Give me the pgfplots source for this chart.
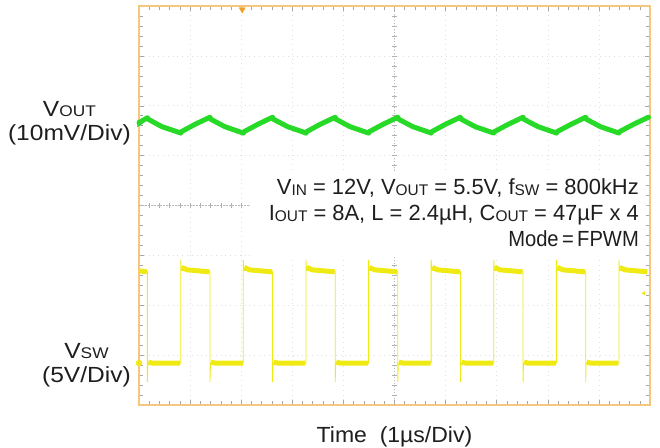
\documentclass[border=0pt]{standalone}
\usepackage{fontspec}
\setmainfont{Liberation Sans}
\usepackage{pgfplots}
\pgfplotsset{compat=1.18}
\definecolor{scborder}{RGB}{245,198,125}
\definecolor{scgreen}{RGB}{40,218,40}
\definecolor{scyellow}{RGB}{240,234,20}
\definecolor{sctrig}{RGB}{240,160,40}
\definecolor{txt}{RGB}{30,30,30}
\newcommand\tfont{\fontsize{22}{25}\selectfont}
\newcommand\sub[1]{\raisebox{-0.6bp}{\fontsize{15.5}{15.5}\selectfont #1}}
\newcommand\wide[1]{\scalebox{1.12}[1]{#1}}
\begin{document}
\begin{tikzpicture}
\useasboundingbox (0,0) rectangle (660bp,448bp);
\begin{axis}[
  at={(139bp,43bp)}, anchor=south west,
  scale only axis, width=511bp, height=399bp,
  xmin=0, xmax=10, ymin=0, ymax=8,
  xtick={0,...,10}, ytick={0,...,8},
  minor tick num=4,
  xticklabels={}, yticklabels={},
  tick align=inside,
  major tick length=5bp, minor tick length=4bp,
  tick style={gray!70, line width=0.5bp},
  grid=major,
  major grid style={gray!25, line width=0.6bp, dash pattern=on 0.8bp off 4bp},
  axis line style={scborder, line width=2bp},
  clip=false,
]
% centre cross lines
\draw[gray!55, line width=0.6bp, dash pattern=on 1.5bp off 1.5bp] (axis cs:0,4) -- (axis cs:10,4);
\draw[gray!55, line width=0.6bp, dash pattern=on 1.5bp off 1.5bp] (axis cs:5,0) -- (axis cs:5,8);
\pgfplotsinvokeforeach{0.2,0.4,...,9.81}{\draw[gray!60, line width=0.5bp] (axis cs:#1,4) ++(0,-2.5bp) -- ++(0,5bp);}
\pgfplotsinvokeforeach{0.2,0.4,...,7.81}{\draw[gray!60, line width=0.5bp] (axis cs:5,#1) ++(-2.5bp,0) -- ++(5bp,0);}
% white annotation box
\fill[white] (axis cs:2.17,2.99) rectangle (axis cs:9.92,4.67);
% VOUT trace
\addplot[scgreen, line width=5bp, line join=round, line cap=round] coordinates {
(0,5.66) (0.164,5.76) (0.18,5.73) (0.45,5.58) (0.80,5.46) (0.816,5.45) (0.83,5.48) (1.10,5.63)
(1.389,5.77) (1.405,5.73) (1.68,5.58) (2.02,5.46) (2.041,5.45) (2.055,5.48) (2.33,5.63)
(2.614,5.77) (2.63,5.73) (2.91,5.58) (3.25,5.46) (3.267,5.45) (3.28,5.48) (3.55,5.63)
(3.840,5.77) (3.855,5.73) (4.13,5.58) (4.47,5.46) (4.492,5.45) (4.505,5.48) (4.78,5.63)
(5.065,5.77) (5.08,5.73) (5.36,5.58) (5.70,5.46) (5.717,5.45) (5.73,5.48) (6.0,5.63)
(6.290,5.77) (6.305,5.73) (6.58,5.58) (6.92,5.46) (6.943,5.45) (6.955,5.48) (7.23,5.63)
(7.516,5.77) (7.53,5.73) (7.81,5.58) (8.15,5.46) (8.168,5.45) (8.18,5.48) (8.46,5.63)
(8.741,5.77) (8.755,5.73) (9.03,5.58) (9.37,5.46) (9.393,5.45) (9.405,5.48) (9.68,5.63)
(9.97,5.77)};
% VSW trace: thin edges with ringing
\addplot[scyellow, line width=0.8bp] coordinates {
(0,2.69) (0.164,2.68) (0.164,0.46) (0.175,0.84) (0.816,0.84) (0.816,2.91) (0.83,2.70)
(1.389,2.68) (1.389,0.46) (1.40,0.84) (2.041,0.84) (2.041,2.91) (2.055,2.70)
(2.614,2.68) (2.614,0.46) (2.625,0.84) (3.267,0.84) (3.267,2.91) (3.28,2.70)
(3.840,2.68) (3.840,0.46) (3.85,0.84) (4.492,0.84) (4.492,2.91) (4.505,2.70)
(5.065,2.68) (5.065,0.46) (5.075,0.84) (5.717,0.84) (5.717,2.91) (5.73,2.70)
(6.290,2.68) (6.290,0.46) (6.30,0.84) (6.943,0.84) (6.943,2.91) (6.955,2.70)
(7.516,2.68) (7.516,0.46) (7.525,0.84) (8.168,0.84) (8.168,2.91) (8.18,2.70)
(8.741,2.68) (8.741,0.46) (8.75,0.84) (9.393,0.84) (9.393,2.91) (9.405,2.70)
(9.95,2.68)};
% VSW trace: noisy plateaus
\addplot[scyellow, line width=5bp, unbounded coords=jump] coordinates {
(0,2.69) (0.154,2.67) (0.154,nan)
(0.184,0.86) (0.26,0.84) (0.806,0.84) (0.806,nan)
(0.836,2.76) (0.94,2.71) (1.379,2.67) (1.379,nan)
(1.409,0.86) (1.49,0.84) (2.031,0.84) (2.031,nan)
(2.061,2.76) (2.16,2.71) (2.604,2.67) (2.604,nan)
(2.634,0.86) (2.71,0.84) (3.257,0.84) (3.257,nan)
(3.287,2.76) (3.39,2.71) (3.830,2.67) (3.830,nan)
(3.860,0.86) (3.94,0.84) (4.482,0.84) (4.482,nan)
(4.512,2.76) (4.61,2.71) (5.055,2.67) (5.055,nan)
(5.085,0.86) (5.16,0.84) (5.707,0.84) (5.707,nan)
(5.737,2.76) (5.84,2.71) (6.280,2.67) (6.280,nan)
(6.310,0.86) (6.39,0.84) (6.933,0.84) (6.933,nan)
(6.963,2.76) (7.06,2.71) (7.506,2.67) (7.506,nan)
(7.536,0.86) (7.61,0.84) (8.158,0.84) (8.158,nan)
(8.188,2.76) (8.29,2.71) (8.731,2.67) (8.731,nan)
(8.761,0.86) (8.84,0.84) (9.383,0.84) (9.383,nan)
(9.413,2.76) (9.51,2.71) (9.95,2.67)};
% channel / trigger markers
\addplot[only marks, mark=triangle*, mark size=3.5bp, mark options={rotate=-90, scgreen}] coordinates {(0,5.64)};
\addplot[only marks, mark=*, mark size=3bp, mark options={scyellow}] coordinates {(0,0.84)};
\addplot[only marks, mark=triangle*, mark size=3.5bp, mark options={rotate=180, sctrig}] coordinates {(2.02,7.93)};
\addplot[only marks, mark=triangle*, mark size=2bp, mark options={rotate=90, scyellow}] coordinates {(9.88,2.24)};
\end{axis}
% annotation text
\node[anchor=base east, inner sep=0pt, txt, font=\tfont] at (639bp,253bp)
  {V\sub{IN} = 12V, V\sub{OUT} = 5.5V, f\sub{SW} = 800kHz};
\node[anchor=base east, inner sep=0pt, txt, font=\tfont] at (639bp,227bp)
  {I\sub{OUT} = 8A, L = 2.4µH, C\sub{OUT} = 47µF x 4};
\node[anchor=base east, inner sep=0pt, txt, font=\tfont] at (639bp,201bp)
  {\scalebox{0.92}[1]{Mode\,=\,FPWM}};
% channel labels
\node[anchor=base east, inner sep=0pt, align=center, txt, font=\tfont] at (131bp,307bp)
  {\wide{V\sub{OUT}}\\\wide{(10mV/Div)}};
\node[anchor=base east, inner sep=0pt, align=center, txt, font=\tfont] at (131bp,65bp)
  {\wide{V\sub{SW}}\\\wide{(5V/Div)}};
% time axis label
\node[anchor=base, inner sep=0pt, txt, font=\tfont] at (394.5bp,6bp) {\scalebox{1.05}[1]{Time\ \ (1µs/Div)}};
\end{tikzpicture}
\end{document}
